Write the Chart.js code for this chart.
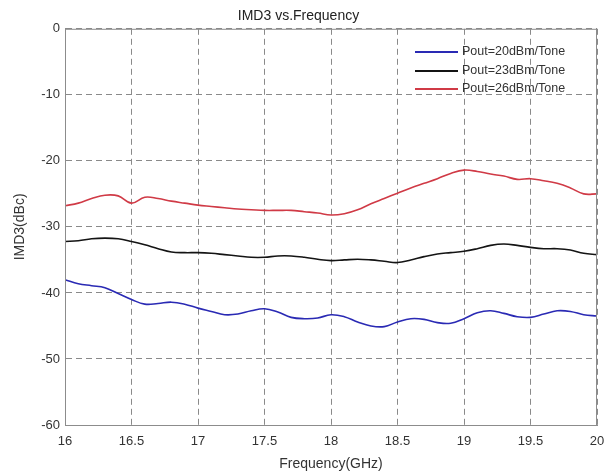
<!DOCTYPE html>
<html>
<head>
<meta charset="utf-8">
<script src="https://cdn.jsdelivr.net/npm/chart.js@4.4.0/dist/chart.umd.min.js"></script>
<style>
    html, body { margin: 0; padding: 0; background: #ffffff; }
    #wrap { width: 616px; height: 476px; }
</style>
</head>
<body>
<div id="wrap"><canvas id="imdChart" width="616" height="476"></canvas></div>
<script>
"use strict";

// Frekvenser (GHz)
const freq = [16.0, 16.1, 16.2, 16.3, 16.4, 16.5, 16.6, 16.7, 16.8, 16.9,
    17.0, 17.1, 17.2, 17.3, 17.4, 17.5, 17.6, 17.7, 17.8, 17.9,
    18.0, 18.1, 18.2, 18.3, 18.4, 18.5, 18.6, 18.7, 18.8, 18.9,
    19.0, 19.1, 19.2, 19.3, 19.4, 19.5, 19.6, 19.7, 19.8, 19.9, 20.0];

// IMD3 (dBc) per uteffekt
const pout20 = [-38.0, -38.6, -38.9, -39.2, -40.1, -41.0, -41.7, -41.6, -41.4, -41.7,
    -42.3, -42.8, -43.3, -43.2, -42.7, -42.4, -42.9, -43.7, -43.9, -43.8,
    -43.3, -43.6, -44.4, -45.0, -45.1, -44.4, -43.9, -44.0, -44.5, -44.6,
    -43.9, -43.0, -42.7, -43.1, -43.6, -43.7, -43.2, -42.7, -42.8, -43.3, -43.5];

const pout23 = [-32.2, -32.1, -31.8, -31.7, -31.8, -32.2, -32.7, -33.3, -33.8, -33.9,
    -33.9, -34.0, -34.2, -34.4, -34.6, -34.6, -34.4, -34.4, -34.6, -34.9,
    -35.1, -35.0, -34.9, -35.0, -35.2, -35.4, -35.0, -34.5, -34.1, -33.9,
    -33.7, -33.3, -32.8, -32.6, -32.8, -33.1, -33.3, -33.3, -33.5, -34.0, -34.2];

const pout26 = [-26.8, -26.4, -25.7, -25.2, -25.3, -26.4, -25.5, -25.7, -26.1, -26.4,
    -26.7, -26.9, -27.1, -27.3, -27.4, -27.5, -27.5, -27.5, -27.7, -27.9,
    -28.2, -28.0, -27.4, -26.5, -25.7, -24.9, -24.1, -23.4, -22.7, -21.9,
    -21.4, -21.6, -22.0, -22.3, -22.8, -22.7, -23.0, -23.4, -24.1, -25.0, -25.0];

const seriesLabels = ['Pout=20dBm/Tone', 'Pout=23dBm/Tone', 'Pout=26dBm/Tone'];
const seriesColors = ['#2a2ab4', '#141414', '#d03a46'];

// Bygg punkter {x, y} för linjär x-axel
function toPoints(values) {
    return freq.map((f, i) => ({ x: f, y: values[i] }));
}

// Plugin: ram runt ritytan
const frameBorder = {
    id: 'frameBorder',
    afterDraw(chart) {
        const { ctx, chartArea } = chart;
        ctx.save();
        ctx.strokeStyle = '#8c8c8c';
        ctx.lineWidth = 1;
        ctx.strokeRect(chartArea.left + 0.5, chartArea.top + 0.5,
            chartArea.right - chartArea.left - 1, chartArea.bottom - chartArea.top);
        ctx.restore();
    }
};

// Plugin: legend inne i diagrammet (uppe till höger, utan ram)
const innerLegend = {
    id: 'innerLegend',
    afterDatasetsDraw(chart) {
        const { ctx, chartArea } = chart;
        const x0 = chartArea.right - 182;
        const rowY = [52, 71, 89];
        ctx.save();
        ctx.font = '12.5px "Liberation Sans", Arial, sans-serif';
        ctx.textBaseline = 'middle';
        chart.data.datasets.forEach((ds, i) => {
            ctx.strokeStyle = ds.borderColor;
            ctx.lineWidth = 2;
            ctx.beginPath();
            ctx.moveTo(x0, rowY[i]);
            ctx.lineTo(x0 + 43, rowY[i]);
            ctx.stroke();
            ctx.fillStyle = '#333333';
            ctx.fillText(ds.label, x0 + 47, rowY[i]);
        });
        ctx.restore();
    }
};

const tickFont = { family: '"Liberation Sans", Arial, sans-serif', size: 13 };
const titleFont = { family: '"Liberation Sans", Arial, sans-serif', size: 14 };

new Chart(document.getElementById('imdChart'), {
    type: 'line',
    data: {
        datasets: [pout20, pout23, pout26].map((values, i) => ({
            label: seriesLabels[i],
            data: toPoints(values),
            borderColor: seriesColors[i],
            borderWidth: 1.6,
            pointRadius: 0,
            tension: 0.4,
            fill: false
        }))
    },
    options: {
        responsive: false,
        animation: false,
        layout: { padding: { left: 0, right: 19, top: 0, bottom: 0 } },
        plugins: {
            legend: { display: false },
            tooltip: { enabled: false },
            title: {
                display: true,
                text: 'IMD3 vs.Frequency',
                color: '#222222',
                font: { family: '"Liberation Sans", Arial, sans-serif', size: 14, weight: 'normal' },
                padding: { top: 8, bottom: 4 }
            }
        },
        scales: {
            x: {
                type: 'linear',
                min: 16,
                max: 20,
                afterFit(scale) { scale.height = 51; },
                ticks: {
                    stepSize: 0.5,
                    color: '#333333',
                    font: tickFont,
                    padding: 9,
                    maxRotation: 0,
                    callback: v => String(v)
                },
                grid: { color: '#8a8a8a', drawTicks: false, lineWidth: 1 },
                border: { display: true, color: '#8c8c8c', dash: [6, 4] },
                title: {
                    display: true,
                    text: 'Frequency(GHz)',
                    color: '#333333',
                    font: titleFont,
                    padding: { top: 0, bottom: 3 }
                }
            },
            y: {
                min: -60,
                max: 0,
                afterFit(scale) { scale.width = 65; },
                ticks: {
                    stepSize: 10,
                    color: '#333333',
                    font: tickFont,
                    padding: 5
                },
                grid: { color: '#8a8a8a', drawTicks: false, lineWidth: 1 },
                border: { display: true, color: '#8c8c8c', dash: [6, 4] },
                title: {
                    display: true,
                    text: 'IMD3(dBc)',
                    color: '#333333',
                    font: titleFont,
                    padding: { top: 12, bottom: 0 }
                }
            }
        }
    },
    plugins: [innerLegend, frameBorder]
});
</script>
</body>
</html>
